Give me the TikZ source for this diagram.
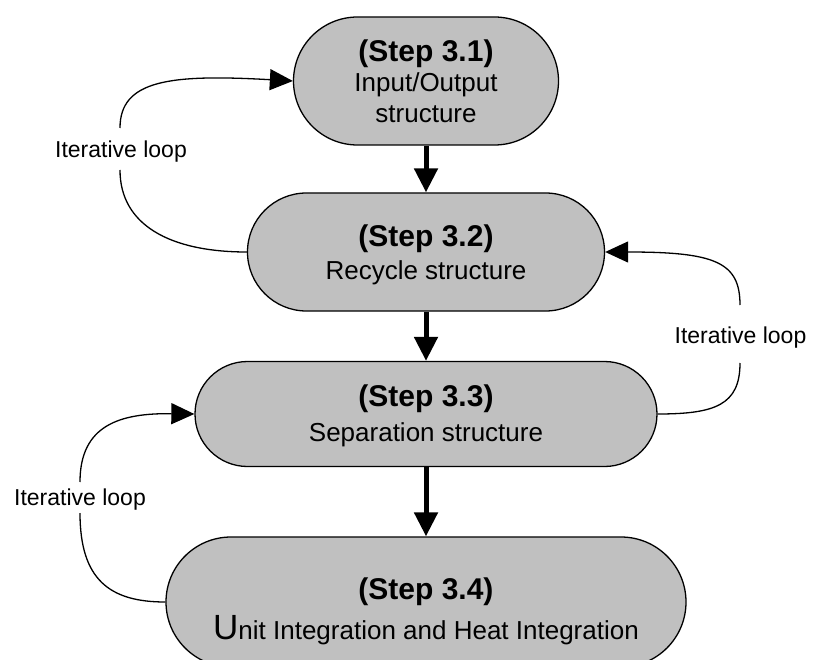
\documentclass[tikz,border=0pt]{standalone}
\usepackage{fontspec}
\setmainfont{Liberation Sans}
\usetikzlibrary{arrows.meta}
\definecolor{boxgray}{RGB}{192,192,192}
% bold heading line of each step box
\newcommand\steptitle[1]{{\fontsize{30}{30}\selectfont\bfseries (Step #1)}}
\tikzset{
  stepbox/.style={draw=black, line width=1.3pt, fill=boxgray, rectangle,
    align=center, inner sep=0pt},
  steparrow/.style={line width=5pt, -{Triangle[width=23pt,length=24pt]}},
  loopline/.style={line width=1.3pt},
  looparrow/.style={line width=1.3pt, -{Triangle[width=21pt,length=23pt]}},
  looplabel/.style={font=\fontsize{23}{27}\selectfont, anchor=base, inner sep=0pt},
}
\begin{document}
\begin{tikzpicture}[x=1pt, y=-1pt]
\useasboundingbox (0,0) rectangle (813,660);
\clip (0,0) rectangle (813,660);

% the four design steps
\node[stepbox, minimum width=265pt, minimum height=128pt, rounded corners=64pt,
      font=\fontsize{26}{30.5}\selectfont] (s1) at (426,81)
  {\steptitle{3.1}\\Input/Output\\structure};
\node[stepbox, minimum width=357pt, minimum height=118pt, rounded corners=59pt,
      font=\fontsize{26}{33}\selectfont] (s2) at (426,252)
  {\rule{0pt}{28pt}\steptitle{3.2}\\Recycle structure};
\node[stepbox, minimum width=462pt, minimum height=105pt, rounded corners=52.5pt,
      font=\fontsize{26}{35}\selectfont] (s3) at (426,414)
  {\rule{0pt}{26pt}\steptitle{3.3}\\Separation structure};
\node[stepbox, minimum width=520pt, minimum height=130pt, rounded corners=65pt,
      font=\fontsize{26}{40}\selectfont] (s4) at (426,602)
  {\rule{0pt}{41pt}\steptitle{3.4}\\{\fontsize{35}{40}\selectfont U}nit Integration and Heat Integration};

% main sequence
\draw[steparrow] (s1.south) -- (s2.north);
\draw[steparrow] (s2.south) -- (s3.north);
\draw[steparrow] (s3.south) -- (s4.north);

% iteration loops, broken where their labels sit
\coordinate (l1a) at (120,170);
\coordinate (l1b) at (120,128);
\coordinate (l2a) at (740,363);
\coordinate (l2b) at (740,305);
\coordinate (l3a) at (80,513);
\coordinate (l3b) at (80,482);

\draw[loopline] (s2.west) .. controls (170,252) and (120,225) .. (l1a);
\draw[looparrow] (l1b) .. controls (120,80) and (170,74) .. (s1.west);

\draw[loopline] (s3.east) .. controls (715,414) and (740,405) .. (l2a);
\draw[looparrow] (l2b) .. controls (740,262) and (715,252) .. (s2.east);

\draw[loopline] (s4.west) .. controls (110,602) and (80,580) .. (l3a);
\draw[looparrow] (l3b) .. controls (80,425) and (120,413) .. (s3.west);

\node[looplabel] (t1) at (121,158) {Iterative loop};
\node[looplabel] (t2) at (740.5,343) {Iterative loop};
\node[looplabel] (t3) at (80,505) {Iterative loop};
\end{tikzpicture}
\end{document}
